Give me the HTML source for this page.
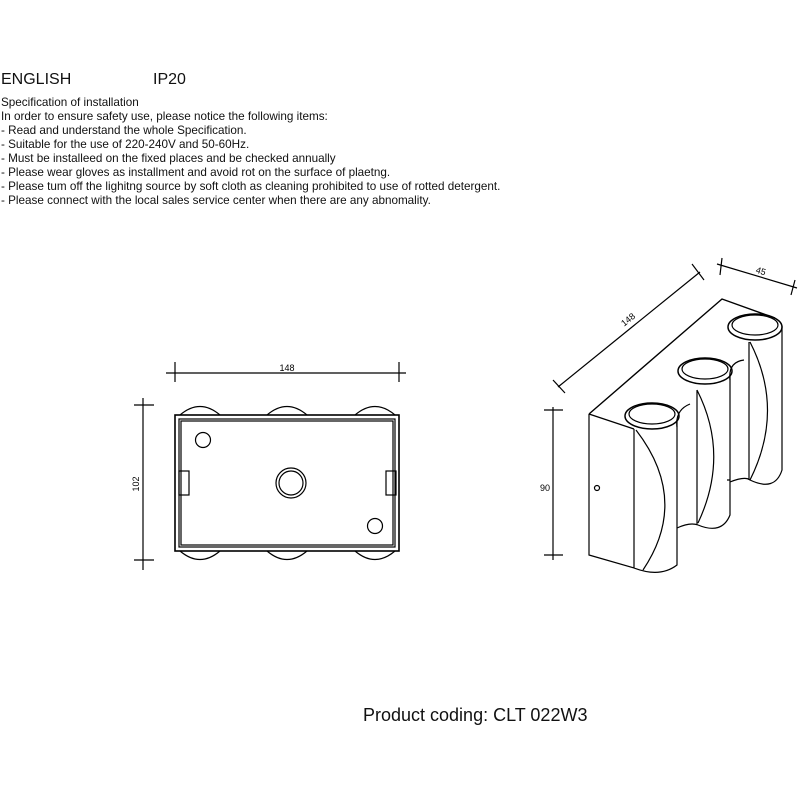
<!DOCTYPE html>
<html><head><style>
body{margin:0;width:800px;height:800px;background:#fff;position:relative;font-family:"Liberation Sans",Arial,sans-serif;color:#111;overflow:hidden}
.t{position:absolute;left:1px;font-size:11.7px;line-height:14px;white-space:pre}
</style></head><body>
<div style="position:absolute;left:1px;top:71px;font-size:16px">ENGLISH</div>
<div style="position:absolute;left:153px;top:71px;font-size:16px">IP20</div>
<div class="t" style="top:96px">Specification of installation
In order to ensure safety use, please notice the following items:
- Read and understand the whole Specification.
- Suitable for the use of 220-240V and 50-60Hz.
- Must be installeed on the fixed places and be checked annually
- Please wear gloves as installment and avoid rot on the surface of plaetng.
- Please tum off the lighitng source by soft cloth as cleaning prohibited to use of rotted detergent.
- Please connect with the local sales service center when there are any abnomality.</div>
<div style="position:absolute;left:363px;top:705px;font-size:18px">Product coding: CLT 022W3</div>
<svg width="800" height="800" style="position:absolute;left:0;top:0" fill="none" stroke="#000" stroke-width="1.2">
<line x1="166" y1="373" x2="406" y2="373"/><line x1="175" y1="362" x2="175" y2="382"/><line x1="399" y1="362" x2="399" y2="382"/>
<text x="287" y="371" font-size="9" fill="#000" stroke="none" text-anchor="middle" font-family="Liberation Sans">148</text>
<line x1="143" y1="398" x2="143" y2="570"/><line x1="134" y1="405" x2="154" y2="405"/><line x1="134" y1="560" x2="154" y2="560"/>
<text x="139" y="484" font-size="9" fill="#000" stroke="none" text-anchor="middle" font-family="Liberation Sans" transform="rotate(-90 139 484)">102</text>
<path d="M180 415 Q200 398 220 415 M267 415 Q287 398 307 415 M355 415 Q375 398 395 415"/>
<path d="M180 551 Q200 568 220 551 M267 551 Q287 568 307 551 M355 551 Q375 568 395 551"/>
<rect x="175" y="415" width="224" height="136" stroke-width="1.6"/>
<rect x="179" y="419" width="216" height="128"/>
<rect x="181" y="421" width="212" height="124"/>
<rect x="179" y="471" width="10" height="24"/><rect x="386" y="471" width="10" height="24"/>
<circle cx="203" cy="440" r="7.5"/><circle cx="375" cy="526" r="7.5"/>
<circle cx="291" cy="483" r="15"/><circle cx="291" cy="483" r="12"/>
<line x1="553" y1="407" x2="553" y2="560"/><line x1="544" y1="410" x2="563" y2="410"/><line x1="544" y1="555" x2="563" y2="555"/>
<text x="545" y="491" font-size="9" fill="#000" stroke="none" text-anchor="middle" font-family="Liberation Sans">90</text>
<line x1="558" y1="387" x2="700" y2="272"/><line x1="553" y1="380" x2="565" y2="393"/><line x1="692" y1="264" x2="704" y2="280"/>
<text x="630" y="322" font-size="9" fill="#000" stroke="none" text-anchor="middle" font-family="Liberation Sans" transform="rotate(-39 630 322)">148</text>
<line x1="717" y1="264" x2="797" y2="288"/><line x1="722" y1="258" x2="720" y2="275"/><line x1="795" y1="280" x2="791" y2="295"/>
<text x="760" y="274" font-size="9" fill="#000" stroke="none" text-anchor="middle" font-family="Liberation Sans" transform="rotate(17 760 274)">45</text>
<path d="M589 414 L722 299 L775 318" stroke-width="1.4"/>
<path d="M589 414 L634 429 M589 414 L589 555 L634 568 L634 429"/>
<circle cx="597" cy="488" r="2.5"/>
<path d="M634 568 Q660 578 677 565 L677 420"/>
<path d="M677 528 Q690 522 698 525 Q722 535 730 515 L730 375"/>
<path d="M727 480 L730 480 M730 482 Q745 476 750 480 Q775 492 782 470 L782 326"/>
<path d="M677 427 Q675 410 690 404 M730 380 Q728 362 744 360"/>
<path d="M636 430 Q690 500 643 570"/>
<path d="M697 390 L697 525 M697 390 Q730 455 698 523"/>
<path d="M749 342 L749 480 M750 342 Q785 410 750 480"/>
<ellipse cx="652" cy="416" rx="27" ry="13" stroke-width="1.5"/><ellipse cx="652" cy="414" rx="23" ry="10"/>
<ellipse cx="705" cy="371" rx="27" ry="13" stroke-width="1.5"/><ellipse cx="705" cy="369" rx="23" ry="10"/>
<ellipse cx="755" cy="327" rx="27" ry="13" stroke-width="1.5"/><ellipse cx="755" cy="325" rx="23" ry="10"/>
</svg>
</body></html>
